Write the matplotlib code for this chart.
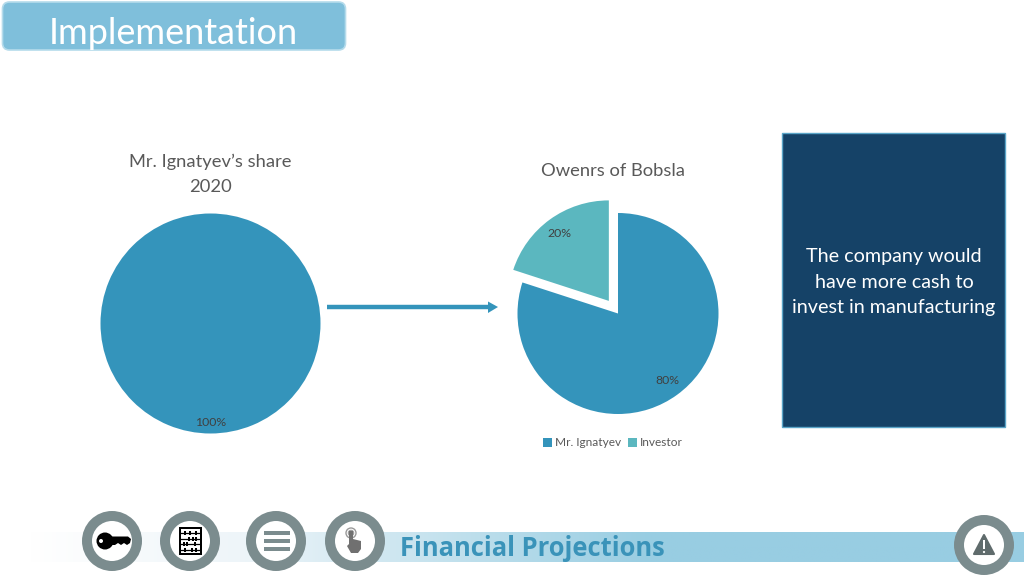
import numpy as np
import matplotlib
matplotlib.use('Agg')
import matplotlib.pyplot as plt
from matplotlib.patches import Circle, FancyBboxPatch, Polygon, Rectangle

W, H = 1024, 575

title = 'Implementation'
footer = 'Financial Projections'
left_title = 'Mr. Ignatyev’s share\n2020'
right_title = 'Owenrs of Bobsla'
left_values = [100]
right_values = [80, 20]
owners = ['Mr. Ignatyev', 'Investor']
callout = 'The company would\nhave more cash to\ninvest in manufacturing'

blue = '#3494bb'
teal = '#5bb7bf'
ring = '#7b8c8e'
text_grey = '#595959'

plt.rcParams['font.family'] = ['Lato', 'DejaVu Sans']

fig = plt.figure(figsize=(W / 100, H / 100), dpi=100)
bg = fig.add_axes([0, 0, 1, 1])
bg.axis('off')


def pie_axes(cx, cy, r):
    # square axes whose unit circle lands on the wanted pixels
    s = 2.5 * r
    ax = fig.add_axes([(cx - s / 2) / W, 1 - (cy + s / 2) / H, s / W, s / H])
    ax.patch.set_alpha(0)
    return ax


# header
bg.add_patch(FancyBboxPatch((2.5, 2), 343, 48, boxstyle='round,pad=0,rounding_size=7',
                            fc='#7fbfdb', ec='#b5dbeb', lw=1.2))
bg.text(173.5, 33.5, title, color='white', fontsize=26, ha='center', va='center')

# footer band, white on the left and flat from about x=650
xs = np.linspace(30, W, 500)
band = np.stack([np.interp(xs, [30, 240, 400, 650], [255, 238, 205, 0x98]),
                 np.interp(xs, [30, 240, 400, 650], [255, 245, 230, 0xcd]),
                 np.interp(xs, [30, 240, 400, 650], [255, 249, 240, 0xe2])], axis=-1)
bg.imshow(band[np.newaxis, :, :] / 255, extent=(30, W, 562, 532), aspect='auto', zorder=1)
bg.text(400, 549, footer, color='#3a93b9', fontsize=18.4, fontweight='bold',
        family='Open Sans', ha='left', va='center', zorder=3)

# icon rings
for cx, cy in [(112, 541), (190, 541), (276, 541), (355, 541), (984, 545)]:
    bg.add_patch(Circle((cx, cy), 30, fc=ring, ec='none', zorder=2))
    bg.add_patch(Circle((cx, cy), 20, fc='white', ec='none', zorder=2))

# key
bg.add_patch(Circle((105, 541), 8.5, fc='black', ec='none', zorder=3))
bg.add_patch(Circle((101, 541), 2, fc='white', ec='none', zorder=3))
bg.add_patch(Polygon([(110, 536.5), (128, 536.5), (131, 539), (130, 543), (127, 545), (124, 543), (121, 545),
                      (118, 543), (115, 545), (110, 545)], fc='black', ec='none', zorder=3))

# abacus
bg.add_patch(Rectangle((179, 527), 23, 28, fc='black', ec='none', zorder=3))
bg.add_patch(Rectangle((181, 529), 19, 24, fc='white', ec='none', zorder=3))
rows = (533, 538.5, 544, 549.5)
beads = [(185, 190, 196), (189, 193, 196), (184, 187, 195), (185, 192, 196)]
for y, bxs in zip(rows, beads):
    bg.plot([181, 200], [y, y], color='black', lw=0.9, zorder=4)
    for x in bxs:
        bg.add_patch(Rectangle((x - 1.4, y - 2), 2.8, 4, fc='black', ec='none', zorder=4))

# menu bars
for y in (532.5, 541, 549):
    bg.add_patch(Rectangle((264, y - 2), 25.5, 4, fc=ring, ec='none', zorder=3))

# touch hand
bg.add_patch(Circle((351, 533), 5, fc='none', ec='#9a9a9a', lw=1, zorder=3))
bg.add_patch(Circle((351, 533), 2.7, fc='none', ec='#9a9a9a', lw=0.8, zorder=3))
bg.add_patch(Polygon([(349, 531), (353, 531), (353, 539), (361, 541), (361, 549), (358, 553),
                      (351, 553), (347, 546), (349, 544)], fc='#707070', ec='none', zorder=3))

# warning sign
bg.add_patch(Polygon([(984, 535), (974, 554), (994, 554)], fc='#5f6b6c', ec='#5f6b6c', lw=1.5,
                     joinstyle='round', zorder=3))
bg.add_patch(Rectangle((983.2, 540), 1.8, 9, fc='white', ec='none', zorder=4))
bg.add_patch(Circle((984, 552), 1.1, fc='white', ec='none', zorder=4))

# callout box
bg.add_patch(Rectangle((782, 133), 223, 294, fc='#154267', ec='#5aa5c8', lw=1, zorder=2))
bg.text(894, 282, callout, color='white', fontsize=14.2, ha='center', va='center',
        linespacing=1.6, zorder=3)

# arrow between the pies
bg.plot([327, 489], [307, 307], color=blue, lw=3.2, solid_capstyle='butt', zorder=2)
bg.add_patch(Polygon([(488, 301.5), (498, 307), (488, 313)], fc=blue, ec='none', zorder=2))

bg.text(210, 174, left_title, color=text_grey, fontsize=13.2, ha='center', va='center', linespacing=1.7)
bg.text(613, 171, right_title, color=text_grey, fontsize=13.2, ha='center', va='center')

bg.set_xlim(0, W)
bg.set_ylim(H, 0)

# pies
ax1 = pie_axes(210.5, 323.5, 110)
ax1.pie(left_values, colors=[blue], startangle=90, counterclock=False, autopct='%.0f%%',
        pctdistance=0.9, textprops={'color': '#404040', 'fontsize': 8.8})

ax2 = pie_axes(618, 313.5, 100.5)
wedges, _, _ = ax2.pie(right_values, colors=[blue, teal], explode=[0, 0.155], startangle=90,
                       counterclock=False, autopct='%.0f%%', pctdistance=0.83,
                       textprops={'color': '#404040', 'fontsize': 8.8})

fig.legend(wedges, owners, loc='center', bbox_to_anchor=(613 / W, 1 - 443 / H), ncol=2, frameon=False,
           fontsize=8.6, labelcolor=text_grey, handlelength=0.75, handleheight=0.75,
           handletextpad=0.25, columnspacing=0.6)

fig.savefig('out.png', dpi=100, facecolor='white')
